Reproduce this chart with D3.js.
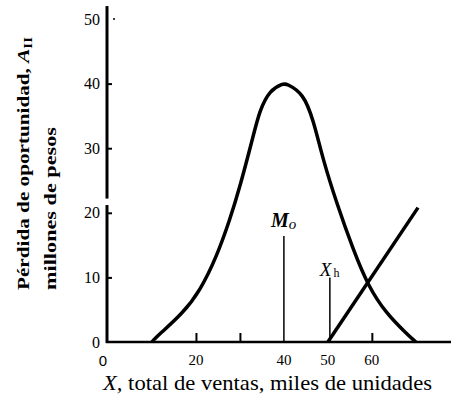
<!DOCTYPE html>
<html>
<head>
<meta charset="utf-8">
<script src="https://cdn.jsdelivr.net/npm/d3@7"></script>
<style>
  body { margin: 0; background: #fff; }
  text { font-family: "Liberation Serif", "Times New Roman", serif; fill: #000; }
</style>
</head>
<body>
<svg id="chart"></svg>
<script>
var width = 451,
    height = 404;

// opportunity loss curve (bell shaped)
var lossX = [10, 11, 17, 21, 24.7, 27.7, 30, 33, 34.5, 36.8, 39.8, 40.6, 44.4, 46.7, 48.9, 52, 55.8, 59.2, 63.3, 67.9, 70];
var lossY = [0, 0.8, 4.4, 8, 13.2, 18.9, 24, 31.8, 35.9, 39, 40, 40, 38.5, 34.4, 28.2, 21.5, 14.2, 8.6, 4.4, 1.3, 0];
// straight loss line starting at the break-even point
var lineX = [50, 70.5];
var lineY = [0, 20.8];

var yTicks = [10, 20, 30, 40];
var yLabels = [0, 10, 20, 30, 40, 50];
var xTicks = [20, 30, 60];
var xLabels = [20, 40, 50, 60];

// markers: M0 (mode) and Xh (break-even)
var markM = 40, markMTop = 16.4;
var markX = 50, markXTop = 10;

var x = d3.scaleLinear().domain([0, 78]).range([108, 451]);
var y = d3.scaleLinear().domain([0, 50]).range([342, 19]);

var svg = d3.select("#chart").attr("width", width).attr("height", height);

// y axis: drawn in two pieces, there's a small gap just above 20
svg.append("line")
    .attr("x1", x(0) - 1).attr("x2", x(0) - 1)
    .attr("y1", y(0) + 1).attr("y2", y(21.2))
    .attr("stroke", "#000").attr("stroke-width", 3);
svg.append("line")
    .attr("x1", x(0) - 1).attr("x2", x(0) - 1)
    .attr("y1", y(22.2)).attr("y2", y(52))
    .attr("stroke", "#000").attr("stroke-width", 3);

// x axis
svg.append("line")
    .attr("x1", x(0) - 2).attr("x2", x(78))
    .attr("y1", y(0)).attr("y2", y(0))
    .attr("stroke", "#000").attr("stroke-width", 2.5);

// y ticks + labels
var yAx = svg.append("g")
    .attr("transform", "translate(" + (x(0) - 1) + ",0)")
    .call(d3.axisRight(y).tickValues(yTicks).tickSize(5).tickFormat(""));
yAx.select(".domain").remove();
yAx.selectAll(".tick line").attr("stroke", "#000").attr("stroke-width", 2);

svg.append("circle")
    .attr("cx", x(0) + 6).attr("cy", y(50)).attr("r", 1)
    .attr("fill", "#000");

svg.append("g").selectAll("text")
    .data(yLabels)
    .enter().append("text")
    .attr("x", x(0) - 8)
    .attr("y", function(d) { return y(d); })
    .attr("dy", "0.35em")
    .attr("text-anchor", "end")
    .style("font-size", "16px")
    .text(function(d) { return d; });

// x ticks (upward) + labels
var xAx = svg.append("g")
    .attr("transform", "translate(0," + y(0) + ")")
    .call(d3.axisTop(x).tickValues(xTicks).tickSize(9).tickFormat(""));
xAx.select(".domain").remove();
xAx.selectAll(".tick line").attr("stroke", "#000").attr("stroke-width", 2);

svg.append("g").selectAll("text")
    .data(xLabels)
    .enter().append("text")
    .attr("x", function(d) { return x(d); })
    .attr("y", y(0) + 23)
    .attr("text-anchor", "middle")
    .style("font-size", "15px")
    .text(function(d) { return d; });

svg.append("text")
    .attr("x", x(0) - 5)
    .attr("y", y(0) + 24)
    .attr("text-anchor", "middle")
    .style("font-family", "Liberation Sans, Arial, sans-serif")
    .style("font-size", "15px")
    .text("0");

// curves
var line = d3.line()
    .x(function(d) { return x(d[0]); })
    .y(function(d) { return y(d[1]); });

svg.append("path")
    .datum(d3.zip(lossX, lossY))
    .attr("d", line.curve(d3.curveBasis))
    .attr("fill", "none")
    .attr("stroke", "#000")
    .attr("stroke-width", 3.5);

svg.append("path")
    .datum(d3.zip(lineX, lineY))
    .attr("d", line.curve(d3.curveLinear))
    .attr("fill", "none")
    .attr("stroke", "#000")
    .attr("stroke-width", 3.5);

// marker lines
svg.append("line")
    .attr("x1", x(markM)).attr("x2", x(markM))
    .attr("y1", y(0)).attr("y2", y(markMTop))
    .attr("stroke", "#000").attr("stroke-width", 1.5);
svg.append("line")
    .attr("x1", x(markX) + 2).attr("x2", x(markX) + 2)
    .attr("y1", y(0)).attr("y2", y(markXTop))
    .attr("stroke", "#000").attr("stroke-width", 1.5);

var mLab = svg.append("text")
    .attr("x", x(markM) - 13)
    .attr("y", y(markMTop) - 9)
    .style("font-size", "20px")
    .style("font-style", "italic")
    .style("font-weight", "bold");
mLab.append("tspan").text("M");
mLab.append("tspan").attr("dy", 2).style("font-size", "15px").style("font-weight", "normal").text("o");

var xLab = svg.append("text")
    .attr("x", x(markX) - 8)
    .attr("y", y(markXTop) - 1)
    .style("font-size", "19px")
    .style("font-style", "italic");
xLab.append("tspan").text("X");
xLab.append("tspan").attr("dx", 2).attr("dy", 1).style("font-size", "12px").style("font-style", "normal").text("h");

// axis titles
var xt = svg.append("text")
    .attr("x", 103)
    .attr("y", 390)
    .attr("textLength", 329)
    .attr("lengthAdjust", "spacingAndGlyphs")
    .style("font-size", "22px");
xt.append("tspan").style("font-style", "italic").text("X,");
xt.append("tspan").text(" total de ventas, miles de unidades");

var yt1 = svg.append("text")
    .attr("transform", "translate(29,290) rotate(-90)")
    .attr("textLength", 253)
    .attr("lengthAdjust", "spacingAndGlyphs")
    .style("font-size", "17px")
    .style("font-weight", "bold");
yt1.append("tspan").text("Pérdida de oportunidad, ");
yt1.append("tspan").style("font-style", "italic").text("A");
yt1.append("tspan").attr("dy", 3).style("font-size", "12px").text("II");

svg.append("text")
    .attr("transform", "translate(56,290) rotate(-90)")
    .attr("textLength", 163)
    .attr("lengthAdjust", "spacingAndGlyphs")
    .style("font-size", "17px")
    .style("font-weight", "bold")
    .text("millones de pesos");
</script>
</body>
</html>
